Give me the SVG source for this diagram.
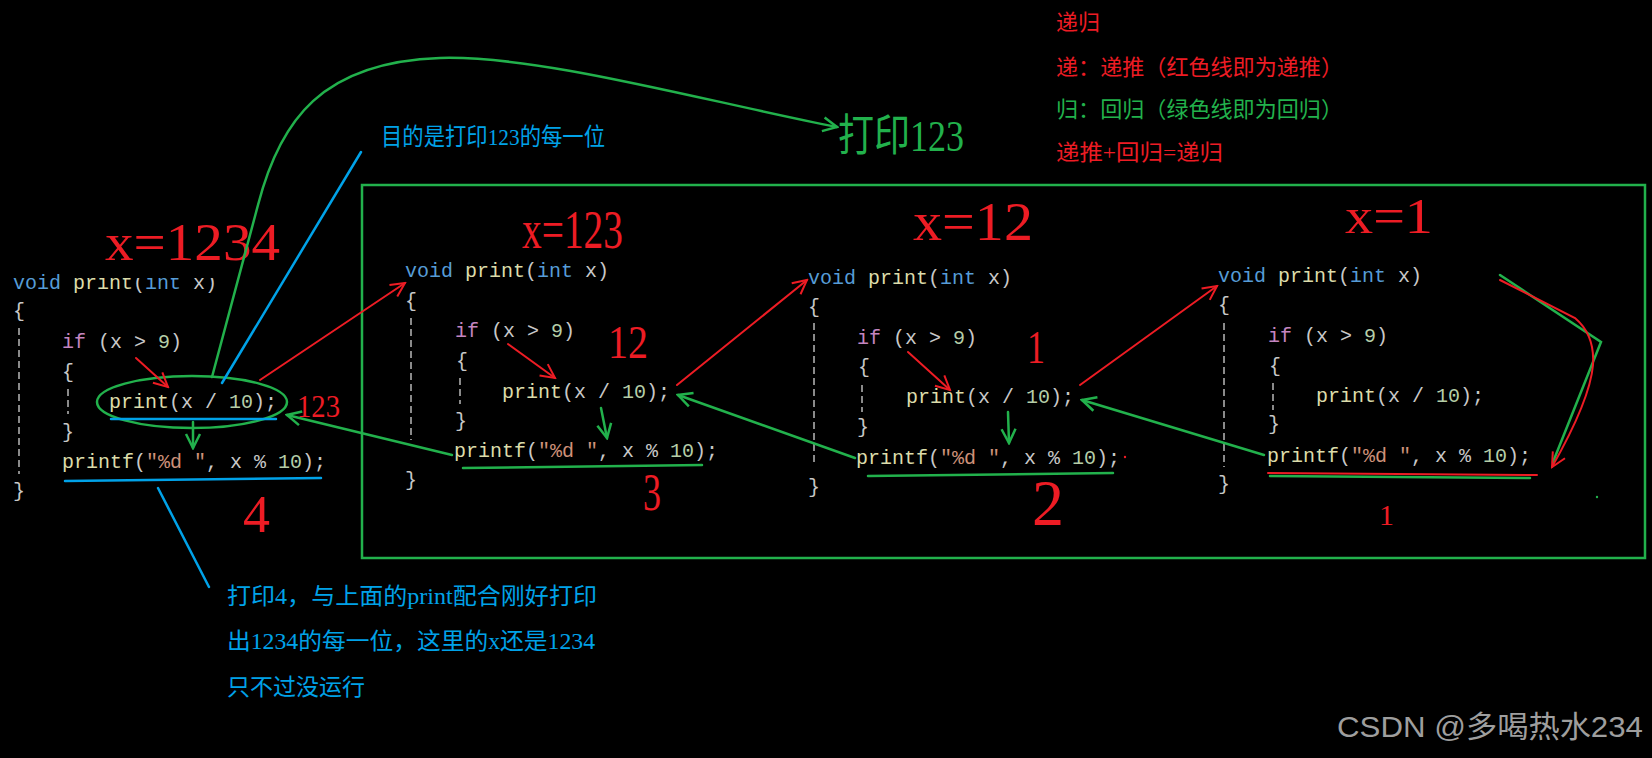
<svg xmlns="http://www.w3.org/2000/svg" width="1652" height="758" viewBox="0 0 1652 758">
<style>
.code{font-family:"Liberation Mono","DejaVu Sans Mono",monospace;font-size:20px;fill:#c8c8c8}
.kw{fill:#569cd6}.fn{fill:#dcdcaa}.ctl{fill:#c586c0}.num{fill:#b5cea8}.str{fill:#ce9178}
.big{font-family:"Liberation Serif","DejaVu Serif",serif;fill:#ed1c24}
.cn{font-family:"Liberation Serif","Noto Sans CJK SC",serif}
.r{stroke:#ed1c24;stroke-width:2;fill:none;stroke-linecap:round}
.g{stroke:#22b14c;stroke-width:2.5;fill:none;stroke-linecap:round}
.b{stroke:#00a2e8;stroke-width:2.5;fill:none;stroke-linecap:round}
.dash{stroke:#8a8a8a;stroke-width:2;stroke-dasharray:7 4;fill:none}
.ra{marker-end:url(#ahr)}.ga{marker-end:url(#ahg)}
</style>
<defs>
<marker id="ahr" viewBox="0 0 18 18" refX="16" refY="9" markerWidth="18" markerHeight="18" markerUnits="userSpaceOnUse" orient="auto"><path d="M2,2 L16,9 L2,16" fill="none" stroke="#ed1c24" stroke-width="2"/></marker>
<marker id="ahg" viewBox="0 0 18 18" refX="16" refY="9" markerWidth="18" markerHeight="18" markerUnits="userSpaceOnUse" orient="auto"><path d="M2,2 L16,9 L2,16" fill="none" stroke="#22b14c" stroke-width="2.5"/></marker>
</defs>
<rect width="1652" height="758" fill="#000"/>

<g id="legend" class="cn" font-size="22">
<text x="1056" y="30" fill="#ed1c24">递归</text>
<text x="1056" y="75" fill="#ed1c24" textLength="287" lengthAdjust="spacingAndGlyphs">递：递推（红色线即为递推）</text>
<text x="1056" y="117" fill="#22b14c" textLength="287" lengthAdjust="spacingAndGlyphs">归：回归（绿色线即为回归）</text>
<text x="1056" y="160" fill="#ed1c24" textLength="167" lengthAdjust="spacingAndGlyphs">递推+回归=递归</text>
</g>

<g id="frame"><rect x="362" y="185" width="1283" height="373" fill="none" stroke="#22b14c" stroke-width="2.5"/></g>

<g id="panel1">
<text class="code" x="13" y="289"><tspan class="kw">void</tspan> <tspan class="fn">print</tspan>(<tspan class="kw">int</tspan> x)</text>
<rect x="72" y="215" width="150" height="63" fill="#000"/>
<text class="code" x="13" y="317">{</text>
<path class="dash" d="M19,328 V474"/>
<text class="code" x="62" y="348"><tspan class="ctl">if</tspan> (x &gt; <tspan class="num">9</tspan>)</text>
<text class="code" x="62" y="378">{</text>
<path class="dash" d="M68,389 V414"/>
<text class="code" x="109" y="408"><tspan class="fn">print</tspan>(x / <tspan class="num">10</tspan>);</text>
<text class="code" x="62" y="438">}</text>
<text class="code" x="62" y="468"><tspan class="fn">printf</tspan>(<tspan class="str">"%d "</tspan>, x % <tspan class="num">10</tspan>);</text>
<text class="code" x="13" y="497">}</text>
<text class="big" x="105" y="260" font-size="52" textLength="175" lengthAdjust="spacingAndGlyphs">x=1234</text>
<text class="big" x="297" y="417" font-size="32" textLength="43" lengthAdjust="spacingAndGlyphs">123</text>
<text class="big" x="243" y="532" font-size="52" textLength="27" lengthAdjust="spacingAndGlyphs">4</text>
</g>

<g id="panel2">
<text class="big" x="522" y="248" font-size="54" textLength="101" lengthAdjust="spacingAndGlyphs">x=123</text>
<text class="code" x="405" y="277"><tspan class="kw">void</tspan> <tspan class="fn">print</tspan>(<tspan class="kw">int</tspan> x)</text>
<text class="code" x="405" y="307">{</text>
<path class="dash" d="M411,318 V440"/>
<text class="code" x="455" y="337"><tspan class="ctl">if</tspan> (x &gt; <tspan class="num">9</tspan>)</text>
<text class="code" x="456" y="367">{</text>
<path class="dash" d="M460,378 V404"/>
<text class="code" x="502" y="398"><tspan class="fn">print</tspan>(x / <tspan class="num">10</tspan>);</text>
<text class="code" x="455" y="427">}</text>
<text class="code" x="454" y="457"><tspan class="fn">printf</tspan>(<tspan class="str">"%d "</tspan>, x % <tspan class="num">10</tspan>);</text>
<text class="code" x="405" y="486">}</text>
<text class="big" x="608" y="358" font-size="46" textLength="40" lengthAdjust="spacingAndGlyphs">12</text>
<text class="big" x="643" y="510" font-size="52" textLength="18" lengthAdjust="spacingAndGlyphs">3</text>
</g>

<g id="panel3">
<text class="big" x="913" y="240" font-size="54" textLength="120" lengthAdjust="spacingAndGlyphs">x=12</text>
<text class="code" x="808" y="284"><tspan class="kw">void</tspan> <tspan class="fn">print</tspan>(<tspan class="kw">int</tspan> x)</text>
<text class="code" x="808" y="313">{</text>
<path class="dash" d="M814,323 V463"/>
<text class="code" x="857" y="344"><tspan class="ctl">if</tspan> (x &gt; <tspan class="num">9</tspan>)</text>
<text class="code" x="858" y="373">{</text>
<path class="dash" d="M862,385 V412"/>
<text class="code" x="906" y="403"><tspan class="fn">print</tspan>(x / <tspan class="num">10</tspan>);</text>
<text class="code" x="857" y="433">}</text>
<text class="code" x="856" y="464"><tspan class="fn">printf</tspan>(<tspan class="str">"%d "</tspan>, x % <tspan class="num">10</tspan>);</text>
<text class="code" x="808" y="493">}</text>
<text class="big" x="1027" y="363" font-size="46" textLength="18" lengthAdjust="spacingAndGlyphs">1</text>
<text class="big" x="1032" y="525" font-size="66" textLength="32" lengthAdjust="spacingAndGlyphs">2</text>
</g>

<g id="panel4">
<text class="big" x="1345" y="233" font-size="50" textLength="88" lengthAdjust="spacingAndGlyphs">x=1</text>
<text class="code" x="1218" y="282"><tspan class="kw">void</tspan> <tspan class="fn">print</tspan>(<tspan class="kw">int</tspan> x)</text>
<text class="code" x="1218" y="311">{</text>
<path class="dash" d="M1224,323 V467"/>
<text class="code" x="1268" y="342"><tspan class="ctl">if</tspan> (x &gt; <tspan class="num">9</tspan>)</text>
<text class="code" x="1269" y="372">{</text>
<path class="dash" d="M1273,383 V410"/>
<text class="code" x="1316" y="402"><tspan class="fn">print</tspan>(x / <tspan class="num">10</tspan>);</text>
<text class="code" x="1268" y="430">}</text>
<text class="code" x="1267" y="462"><tspan class="fn">printf</tspan>(<tspan class="str">"%d "</tspan>, x % <tspan class="num">10</tspan>);</text>
<text class="code" x="1218" y="490">}</text>
<text class="big" x="1379" y="525" font-size="30">1</text>
</g>

<g id="notes">
<text class="cn" x="381" y="145" font-size="24" fill="#00a2e8" textLength="224" lengthAdjust="spacingAndGlyphs">目的是打印123的每一位</text>
<text class="cn" x="838" y="151" font-size="44" fill="#22b14c" textLength="126" lengthAdjust="spacingAndGlyphs">打印123</text>
<text class="cn" x="227" y="604" font-size="23" fill="#00a2e8" textLength="370" lengthAdjust="spacingAndGlyphs">打印4，与上面的print配合刚好打印</text>
<text class="cn" x="227" y="649" font-size="23" fill="#00a2e8" textLength="368" lengthAdjust="spacingAndGlyphs">出1234的每一位，这里的x还是1234</text>
<text class="cn" x="227" y="695" font-size="23" fill="#00a2e8">只不过没运行</text>
</g>

<g id="connectors">
<ellipse class="g" cx="192" cy="402" rx="95" ry="26"/>
<path class="g ga" d="M212,377 L258,205 C280,120 322,62 440,58 C540,55 700,100 837,127"/>
<path class="b" d="M361,152 L222,383"/>
<path class="b" d="M111,419 L276,419"/>
<path class="b" d="M65,481 L321,478"/>
<path class="b" d="M158,488 L209,587"/>
<path class="g ga" d="M193,422 L193,448"/>
<path class="r ra" d="M136,358 L168,387"/>
<path class="r ra" d="M260,380 L405,283"/>
<path class="g ga" d="M452,455 L287,415"/>
<path class="r ra" d="M508,344 L555,378"/>
<path class="g ga" d="M601,408 L607,438"/>
<path class="g" d="M463,468 L702,465"/>
<path class="r ra" d="M677,385 L807,280"/>
<path class="g ga" d="M855,458 L678,395"/>
<path class="r ra" d="M908,352 L950,390"/>
<path class="g ga" d="M1008,412 L1009,443"/>
<path class="g" d="M868,476 L1113,473"/>
<path class="r ra" d="M1080,385 L1217,286"/>
<path class="g ga" d="M1264,455 L1082,400"/>
<path class="r" d="M1268,473 L1537,475"/>
<path class="g" d="M1270,476 L1530,478"/>
<path class="g" d="M1500,275 L1601,342 L1553,462"/>
<path class="r ra" d="M1500,280 L1575,318 Q1595,335 1593,365 Q1590,400 1552,467"/>
<circle cx="1125" cy="457" r="1.2" fill="#ed1c24"/>
<circle cx="1597" cy="497" r="1.2" fill="#22b14c"/>
</g>

<g id="watermark"><text x="1337" y="737" font-family="Liberation Sans,Noto Sans CJK SC,sans-serif" font-size="30" fill="#9e9e9e" textLength="306" lengthAdjust="spacingAndGlyphs">CSDN @多喝热水234</text></g>
</svg>
